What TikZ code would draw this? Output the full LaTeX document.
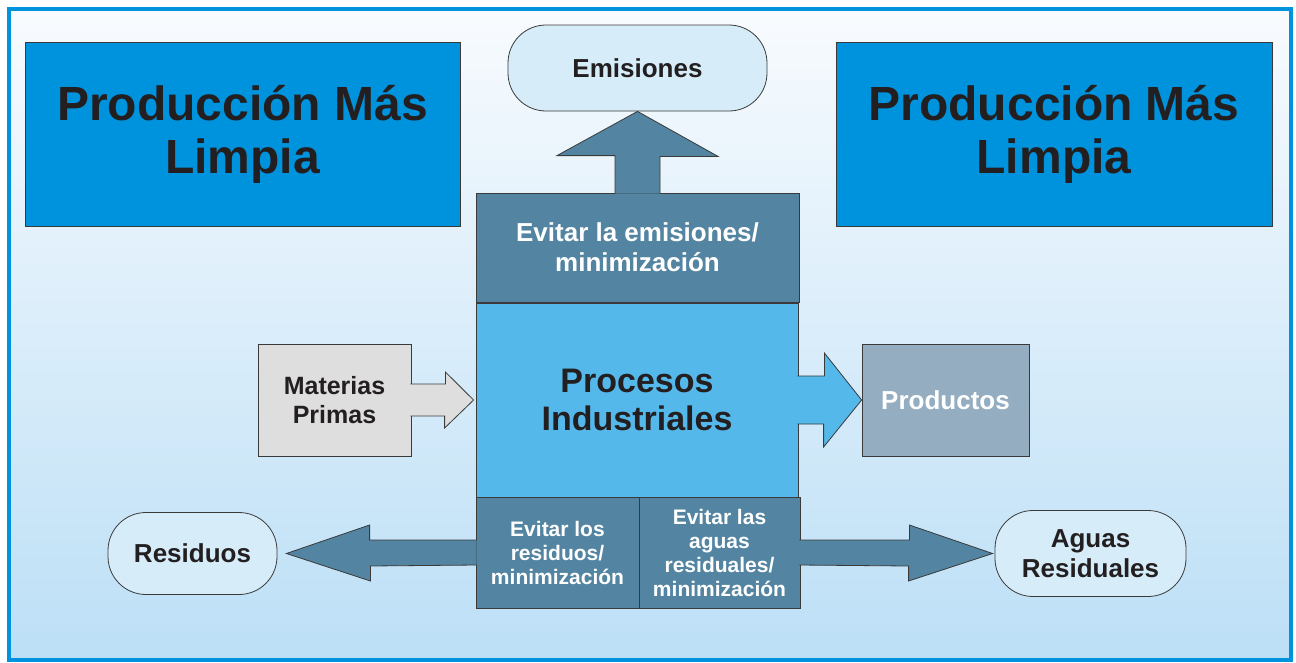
\documentclass[tikz,border=0pt]{standalone}
\usepackage{fontspec}
\setmainfont{Liberation Sans}
\usetikzlibrary{calc}

\definecolor{frameblue}{HTML}{0093DD}
\definecolor{bgtop}{HTML}{F8FBFE}
\definecolor{bgbottom}{HTML}{BCDFF6}
\definecolor{paleblue}{HTML}{D6EDF9}
\definecolor{steel}{HTML}{5385A2}
\definecolor{skyblue}{HTML}{55B8EA}
\definecolor{lightgrey}{HTML}{DEDEDE}
\definecolor{greyblue}{HTML}{95ADC0}
\definecolor{ink}{HTML}{231F20}
\definecolor{edge}{HTML}{3A3A3A}

\newcommand{\fsize}[2]{\fontsize{#1}{#2}\selectfont}

\begin{document}
\begin{tikzpicture}[
    x=1pt, y=-1pt,
    every node/.style={inner sep=0, align=center, text=ink},
    box/.style={rectangle, draw=edge, line width=0.8pt},
    title/.style={box, fill=frameblue, minimum width=435, minimum height=184,
        font=\bfseries\fsize{48}{53}},
    pill/.style={box, rounded corners=38, fill=paleblue,
        font=\bfseries\fsize{26}{30}},
    tool/.style={box, fill=steel, text=white},
    blockarrow/.style={draw=edge, line width=0.8pt, line join=miter},
    ]

    \useasboundingbox (0,0) rectangle (1296,662);
    \shade [top color=bgtop, bottom color=bgbottom] (9,9) rectangle (1291,660);
    \draw [frameblue, line width=4] (9,9) rectangle (1291,660);

    % titles
    \node (pml-left) [title] at (242.5,134) {Producción Más\\Limpia};
    \node (pml-right) [title, minimum width=436] at (1054,134) {Producción Más\\Limpia};

    % centre column
    \node (emis) [pill, minimum width=259, minimum height=86] at (637.5,68) {Emisiones};
    \node (ev-emis) [tool, minimum width=323, minimum height=109,
        font=\bfseries\fsize{26}{30}] at (637.5,247.5)
        {Evitar la emisiones/\\minimización};
    \node (proc) [box, fill=skyblue, minimum width=322, minimum height=194,
        font=\bfseries\fsize{34}{38}] at (637,400) {Procesos\\Industriales};
    \node (ev-res) [tool, minimum width=163, minimum height=111,
        font=\bfseries\fsize{21}{24}] at (557.5,552.5)
        {Evitar los\\residuos/\\minimización};
    \node (ev-aguas) [tool, minimum width=161, minimum height=111,
        font=\bfseries\fsize{21}{24}] at (719.5,552.5)
        {Evitar las\\aguas\\residuales/\\minimización};

    % inputs and outputs
    \node (mat) [box, fill=lightgrey, minimum width=153, minimum height=112,
        font=\bfseries\fsize{25}{29}] at (334.5,400) {Materias\\Primas};
    \node (prod) [box, fill=greyblue, text=white, minimum width=167, minimum height=112,
        font=\bfseries\fsize{26}{30}] at (945.5,400) {Productos};
    \node (res) [pill, minimum width=169, minimum height=82] at (192.5,553.5) {Residuos};
    \node (aguas) [pill, minimum width=191, minimum height=86] at (1090.5,553.5)
        {Aguas\\Residuales};

    % block arrows
    \draw [blockarrow, fill=steel] ($(ev-emis.north)+(-22.5,1)$) -- ++(0,-38)
        -- ++(-58,0) -- (emis.south) -- ++(80.5,45) -- ++(-58,0)
        -- ($(ev-emis.north)+(22.5,1)$);
    \draw [blockarrow, fill=lightgrey] ($(mat.east)+(-1,-16)$) -- ++(35,0)
        -- ++(0,-12) -- ($(proc.west)+(-2,0)$) -- ++(-29,28) -- ++(0,-12)
        -- ($(mat.east)+(-1,16)$);
    \draw [blockarrow, fill=skyblue] ($(proc.east)+(-1,-24)$) -- ++(27,0)
        -- ++(0,-23) -- (prod.west) -- ++(-38,47) -- ++(0,-23)
        -- ($(proc.east)+(-1,24)$);
    \draw [blockarrow, fill=steel] ($(ev-res.west)+(1,-12.5)$) -- ++(-107,0)
        -- ++(0,-15) -- ($(res.east)+(9,0)$) -- ++(84,27.5) -- ++(0,-15)
        -- ($(ev-res.west)+(1,12.5)$);
    \draw [blockarrow, fill=steel] ($(ev-aguas.east)+(-1,-12.5)$) -- ++(110,0)
        -- ++(0,-15) -- ($(aguas.west)+(-2,0)$) -- ++(-84,27.5) -- ++(0,-15)
        -- ($(ev-aguas.east)+(-1,12.5)$);
\end{tikzpicture}
\end{document}
